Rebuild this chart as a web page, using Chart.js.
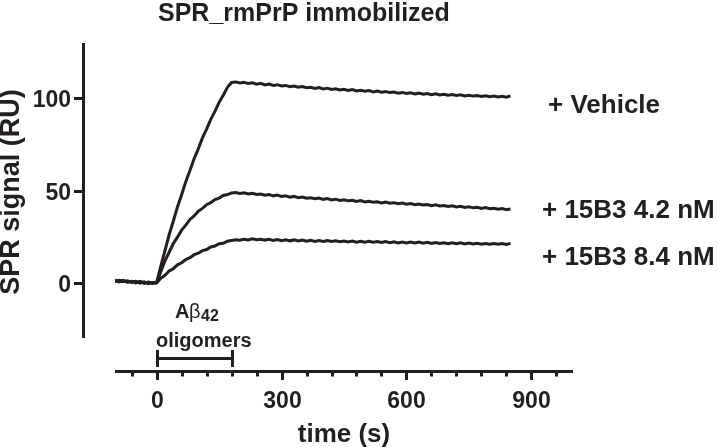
<!DOCTYPE html>
<html>
<head>
<meta charset="utf-8">
<script src="https://cdn.jsdelivr.net/npm/chart.js@4"></script>
<style>
  body { margin: 0; background: #fff; }
  #wrap { width: 718px; height: 447px; position: relative; }
</style>
</head>
<body>
<div id="wrap"><canvas id="sprChart"></canvas></div>
<script>
// time points (s)
const times = [-100, -90, -80, -70, -60, -50, -40, -30, -20, -10, 0,
    10, 20, 30, 40, 50, 60, 70, 80, 90, 100, 110, 120, 130, 140, 150, 160, 170, 180,
    190, 200, 210, 220, 230, 240, 250, 260, 270, 280, 290, 300, 310, 320, 330, 340,
    350, 360, 370, 380, 390, 400, 410, 420, 430, 440, 450, 460, 470, 480, 490, 500,
    510, 520, 530, 540, 550, 560, 570, 580, 590, 600, 610, 620, 630, 640, 650, 660,
    670, 680, 690, 700, 710, 720, 730, 740, 750, 760, 770, 780, 790, 800, 810, 820,
    830, 840, 850];

// SPR signal (RU)
const vehicle = [1.4, 0.9, 1.2, 0.4, 0.8, -0.1, 0.5, -0.3, 0.3, -0.4, 0.0,
    9.0, 17.4, 26.0, 33.3, 41.1, 47.7, 54.8, 60.8, 67.2, 72.6, 78.5, 83.3, 88.6, 92.9, 97.8, 101.7, 106.0, 108.6,
    108.9, 108.3, 108.7, 108.0, 108.4, 107.7, 108.1, 107.3, 107.7, 107.0,
    107.4, 106.7, 107.0, 106.3, 106.7, 106.0, 106.4, 105.7, 106.0, 105.3,
    105.8, 105.1, 105.5, 104.8, 105.2, 104.5, 104.9, 104.3, 104.7, 104.0,
    104.4, 103.8, 104.2, 103.5, 103.9, 103.3, 103.7, 103.1, 103.4, 102.8,
    103.2, 102.6, 103.0, 102.4, 102.8, 102.2, 102.6, 102.0, 102.4, 101.8,
    102.2, 101.7, 102.0, 101.5, 101.9, 101.3, 101.7, 101.2, 101.5, 101.0,
    101.4, 100.9, 101.2, 100.7, 101.1, 100.6, 101.3];

const ab42 = [0.8, 1.3, 0.5, 1.0, 0.2, 0.7, -0.2, 0.4, -0.5, 0.1, 0.0,
    6.0, 11.9, 16.5, 21.2, 24.7, 28.5, 31.2, 34.3, 36.2, 38.8, 40.3, 42.3, 43.4, 45.1, 45.9, 47.3, 47.8, 48.7,
    48.9, 48.4, 48.8, 48.1, 48.5, 47.8, 48.1, 47.4, 47.8, 47.1,
    47.5, 46.8, 47.1, 46.4, 46.8, 46.1, 46.5, 45.8, 46.1, 45.5,
    45.9, 45.2, 45.6, 44.9, 45.3, 44.6, 45.0, 44.4, 44.7, 44.1,
    44.5, 43.8, 44.2, 43.6, 43.9, 43.3, 43.7, 43.1, 43.4, 42.8,
    43.2, 42.6, 42.9, 42.3, 42.7, 42.1, 42.4, 41.8, 42.2, 41.6,
    41.9, 41.3, 41.7, 41.1, 41.4, 40.8, 41.2, 40.6, 40.9, 40.3,
    40.7, 40.1, 40.4, 39.8, 40.2, 39.6, 40.0];

const ab84 = [1.0, 0.4, 1.1, 0.2, 0.6, 0.0, 0.7, -0.3, 0.2, -0.2, 0.0,
    2.4, 4.0, 6.3, 7.6, 9.7, 10.8, 12.6, 13.6, 15.2, 16.0, 17.4, 18.0, 19.4, 19.9, 21.1, 21.4, 22.5, 22.9,
    23.3, 23.0, 23.6, 23.2, 23.8, 23.3, 23.6, 23.1, 23.5, 22.9,
    23.4, 22.8, 23.3, 22.7, 23.2, 22.6, 23.1, 22.5, 23.0, 22.4,
    22.9, 22.4, 22.8, 22.3, 22.7, 22.2, 22.6, 22.1, 22.6, 22.0,
    22.5, 21.9, 22.4, 21.9, 22.3, 21.8, 22.3, 21.7, 22.2, 21.6,
    22.1, 21.6, 22.0, 21.5, 22.0, 21.4, 21.9, 21.3, 21.8, 21.3,
    21.7, 21.2, 21.7, 21.1, 21.6, 21.0, 21.5, 21.0, 21.4, 20.9,
    21.3, 20.8, 21.3, 20.8, 21.2, 20.7, 21.3];

const seriesLabels = ['+ Vehicle', '+ 15B3 4.2 nM', '+ 15B3 8.4 nM'];

// axis ticks
const xTicks = [0, 300, 600, 900];
const xMinorTicks = [-60, 60, 120, 180, 240, 360, 420, 480, 540, 660, 720, 780, 840, 960];
const yTicks = [0, 50, 100];

// injection window of the oligomers
const injection = [0, 180];

const ink = '#231f20';
const fontFam = '"Liberation Sans", Arial, Helvetica, sans-serif';

function toPoints(values) {
    return times.map((t, i) => ({ x: t, y: values[i] }));
}

// Prism-style detached axes + text
const prismAxes = {
    id: 'prismAxes',
    afterDraw(chart) {
        const ctx = chart.ctx;
        const xs = chart.scales.x;
        const ys = chart.scales.y;
        ctx.save();
        ctx.strokeStyle = ink;
        ctx.fillStyle = ink;
        ctx.lineWidth = 3;
        ctx.lineCap = 'butt';

        // y axis
        const axX = 83.5;
        ctx.beginPath();
        ctx.moveTo(axX, ys.getPixelForValue(130));
        ctx.lineTo(axX, ys.getPixelForValue(-30));
        ctx.stroke();
        ctx.font = 'bold 23px ' + fontFam;
        ctx.textAlign = 'right';
        ctx.textBaseline = 'alphabetic';
        yTicks.forEach(v => {
            const py = Math.round(ys.getPixelForValue(v)) + 0.5;
            ctx.beginPath();
            ctx.moveTo(74, py);
            ctx.lineTo(axX, py);
            ctx.stroke();
            ctx.fillText(String(v), 71, py + 8);
        });

        // x axis
        const axY = 371.5;
        ctx.beginPath();
        ctx.moveTo(xs.getPixelForValue(-100), axY);
        ctx.lineTo(xs.getPixelForValue(1000), axY);
        ctx.stroke();
        xMinorTicks.forEach(v => {
            const px = Math.round(xs.getPixelForValue(v)) + 0.5;
            ctx.beginPath();
            ctx.moveTo(px, axY);
            ctx.lineTo(px, axY + 5);
            ctx.stroke();
        });
        ctx.textAlign = 'center';
        xTicks.forEach(v => {
            const px = Math.round(xs.getPixelForValue(v)) + 0.5;
            ctx.beginPath();
            ctx.moveTo(px, axY);
            ctx.lineTo(px, axY + 8.5);
            ctx.stroke();
            ctx.fillText(String(v), px, 408);
        });

        // axis titles
        ctx.font = 'bold 26px ' + fontFam;
        ctx.fillText('time (s)', 344, 442);
        ctx.save();
        ctx.translate(19, 192);
        ctx.rotate(-Math.PI / 2);
        ctx.font = 'bold 27px ' + fontFam;
        ctx.fillText('SPR signal (RU)', 0, 0);
        ctx.restore();

        // chart title
        ctx.textAlign = 'left';
        ctx.font = 'bold 25px ' + fontFam;
        ctx.fillText('SPR_rmPrP immobilized', 158, 21);

        // series labels
        ctx.font = 'bold 26px ' + fontFam;
        ctx.fillText(seriesLabels[0], 548, 113);
        ctx.fillText(seriesLabels[1], 542, 218);
        ctx.fillText(seriesLabels[2], 542, 265);

        // injection bracket
        const bx0 = Math.round(xs.getPixelForValue(injection[0])) + 0.5;
        const bx1 = Math.round(xs.getPixelForValue(injection[1])) + 0.5;
        ctx.beginPath();
        ctx.moveTo(bx0, 350); ctx.lineTo(bx0, 367);
        ctx.moveTo(bx1, 350); ctx.lineTo(bx1, 367);
        ctx.moveTo(bx0, 358.5); ctx.lineTo(bx1, 358.5);
        ctx.stroke();

        ctx.font = 'bold 20px ' + fontFam;
        ctx.fillText('oligomers', 156, 347);
        ctx.fillText('A', 175, 318);
        ctx.font = '20px ' + fontFam;
        ctx.fillText('\u03b2', 189, 318);
        ctx.font = 'bold 16px ' + fontFam;
        ctx.fillText('42', 201, 321);
        ctx.restore();
    }
};

const lineStyle = {
    borderColor: ink,
    borderWidth: 3,
    pointRadius: 0,
    tension: 0,
    fill: false
};

new Chart(document.getElementById('sprChart').getContext('2d'), {
    type: 'line',
    data: {
        datasets: [
            { label: seriesLabels[0], data: toPoints(vehicle), ...lineStyle },
            { label: seriesLabels[1], data: toPoints(ab42), ...lineStyle },
            { label: seriesLabels[2], data: toPoints(ab84), ...lineStyle }
        ]
    },
    options: {
        responsive: true,
        maintainAspectRatio: false,
        animation: false,
        layout: { padding: { left: 115, right: 145, top: 43, bottom: 109 } },
        plugins: {
            legend: { display: false },
            tooltip: { enabled: false },
            title: { display: false }
        },
        scales: {
            x: { type: 'linear', min: -100, max: 1000, display: false },
            y: { min: -30, max: 130, display: false }
        }
    },
    plugins: [prismAxes]
});
</script>
</body>
</html>
